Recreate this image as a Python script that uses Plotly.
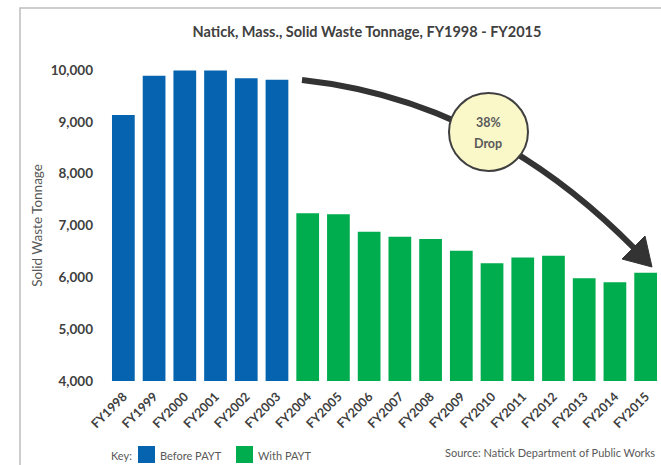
import plotly.graph_objects as go

years_before = ["FY1998", "FY1999", "FY2000", "FY2001", "FY2002", "FY2003"]
tons_before = [9130, 9890, 9990, 9990, 9840, 9810]
years_with = ["FY2004", "FY2005", "FY2006", "FY2007", "FY2008", "FY2009",
              "FY2010", "FY2011", "FY2012", "FY2013", "FY2014", "FY2015"]
tons_with = [7235, 7215, 6880, 6785, 6740, 6515, 6270, 6385, 6415, 5980, 5905, 6090]
y_ticks = [4000, 5000, 6000, 7000, 8000, 9000, 10000]
y_tick_text = ["4,000", "5,000", "6,000", "7,000", "8,000", "9,000", "10,000"]

W, H = 661, 465
L, R, T, B = 108, 661, 70, 381
FONT = "Lato"


def px(x):
    return (x - L) / (R - L)


def py(y):
    return (B - y) / (B - T)


fig = go.Figure()
fig.add_trace(go.Bar(x=years_before, y=tons_before, name="Before PAYT",
                     marker=dict(color="#0563AF", line=dict(width=0)), showlegend=False))
fig.add_trace(go.Bar(x=years_with, y=tons_with, name="With PAYT",
                     marker=dict(color="#00AD4E", line=dict(width=0)), showlegend=False))

shapes = []
# card frame
shapes.append(dict(type="path", xref="paper", yref="paper",
                   path=f"M {px(20)},{py(470)} L {px(20)},{py(8)} L {px(670)},{py(8)}",
                   line=dict(color="#bdbdbd", width=1.5)))
# curved arrow shaft
p0 = (302, 80); c = (488, 100); p2 = (634, 248)
shapes.append(dict(type="path", xref="paper", yref="paper",
                   path=f"M {px(p0[0])},{py(p0[1])} Q {px(c[0])},{py(c[1])} {px(p2[0])},{py(p2[1])}",
                   line=dict(color="#333333", width=6)))
# arrow head
shapes.append(dict(type="path", xref="paper", yref="paper",
                   path=f"M {px(622)},{py(259)} L {px(652)},{py(267)} L {px(645)},{py(236)} Z",
                   fillcolor="#333333", line=dict(color="#333333", width=1)))
# circle
shapes.append(dict(type="circle", xref="paper", yref="paper",
                   x0=px(449), x1=px(528), y0=py(171), y1=py(93),
                   fillcolor="#FAF7C9", line=dict(color="#3f3f3f", width=2)))
# legend squares
shapes.append(dict(type="rect", xref="paper", yref="paper",
                   x0=px(138), x1=px(155), y0=py(463), y1=py(446),
                   fillcolor="#0563AF", line=dict(width=0)))
shapes.append(dict(type="rect", xref="paper", yref="paper",
                   x0=px(236), x1=px(253), y0=py(463), y1=py(446),
                   fillcolor="#00AD4E", line=dict(width=0)))

ann = []
circ_font = dict(family=FONT, size=12.5, color="#595959")
ann.append(dict(text="<b>38%</b>", x=px(488), y=py(122), xref="paper", yref="paper",
                xanchor="center", yanchor="middle", showarrow=False, font=circ_font))
ann.append(dict(text="<b>Drop</b>", x=px(488), y=py(143), xref="paper", yref="paper",
                xanchor="center", yanchor="middle", showarrow=False, font=circ_font))
leg_font = dict(family=FONT, size=11, color="#595959")
ann.append(dict(text="Key:", x=px(134), y=py(455), xref="paper", yref="paper",
                xanchor="right", yanchor="middle", showarrow=False, font=leg_font))
ann.append(dict(text="Before PAYT", x=px(158), y=py(455), xref="paper", yref="paper",
                xanchor="left", yanchor="middle", showarrow=False, font=leg_font))
ann.append(dict(text="With PAYT", x=px(256), y=py(455), xref="paper", yref="paper",
                xanchor="left", yanchor="middle", showarrow=False, font=leg_font))
ann.append(dict(text="Source: Natick Department of Public Works", x=px(657), y=py(453),
                xref="paper", yref="paper", xanchor="right", yanchor="middle",
                showarrow=False, font=leg_font))

fig.update_layout(
    width=W, height=H,
    margin=dict(l=L, r=W - R, t=T, b=H - B, autoexpand=False),
    paper_bgcolor="white", plot_bgcolor="white",
    barmode="overlay", bargap=0.26,
    title=dict(text="<b>Natick, Mass., Solid Waste Tonnage, FY1998 - FY2015</b>",
               x=px(367), xref="paper", xanchor="center",
               y=1 - 32 / H, yref="container", yanchor="middle",
               font=dict(family=FONT, size=14.5, color="#404040")),
    xaxis=dict(type="category", categoryorder="array", categoryarray=years_before + years_with,
               tickangle=-45, tickfont=dict(family=FONT, size=12.5, color="#404040", weight="bold"),
               ticklabelstandoff=5,
               showgrid=False, showline=False, zeroline=False, ticks="", automargin=False),
    yaxis=dict(range=[4000, 10000], tickvals=y_ticks, ticktext=y_tick_text,
               tickfont=dict(family=FONT, size=13.5, color="#404040", weight="bold"),
               showgrid=False, showline=False, zeroline=False, ticks="",
               ticklabelstandoff=14, automargin=False,
               title=dict(text="Solid Waste Tonnage", standoff=4,
                          font=dict(family=FONT, size=13.5, color="#595959"))),
    shapes=shapes, annotations=ann,
)

fig.write_html("out.html", config={"displayModeBar": False},
               post_script="document.body.style.margin='0';document.body.style.overflow='hidden';")
